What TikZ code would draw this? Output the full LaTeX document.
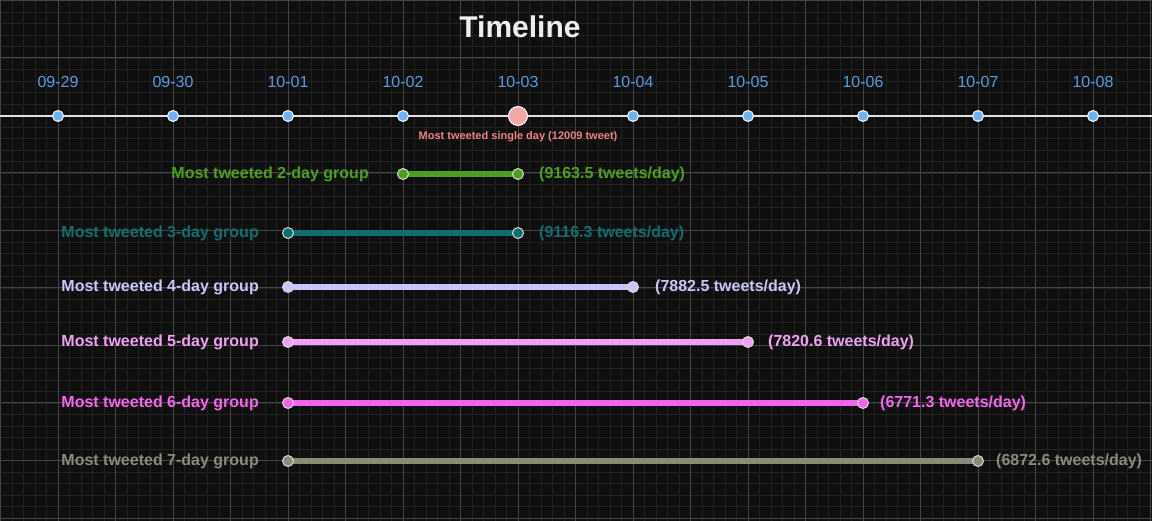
\documentclass[tikz,border=0pt]{standalone}
\usepackage{fontspec}
\setmainfont{Liberation Sans}
\usepackage{tikz}
\usetikzlibrary{positioning}
\usepackage{xcolor}
\definecolor{bgdark}{RGB}{15,15,15}
\definecolor{gridminor}{RGB}{33,33,33}
\definecolor{gridmajor}{RGB}{68,68,68}
\definecolor{datetext}{RGB}{88,156,224}
\definecolor{datefill}{RGB}{108,178,246}
\definecolor{peakfill}{RGB}{244,166,168}
\definecolor{peaktext}{RGB}{240,130,130}
\definecolor{grptwo}{RGB}{76,160,31}
\definecolor{grpthree}{RGB}{16,110,110}
\definecolor{grpfour}{RGB}{198,198,250}
\definecolor{grpfive}{RGB}{240,160,240}
\definecolor{grpsix}{RGB}{242,100,236}
\definecolor{grpseven}{RGB}{136,140,120}
\pgfdeclarelayer{back}
\pgfdeclarelayer{mid}
\pgfsetlayers{back,mid,main}

\begin{document}
\begin{tikzpicture}[x=1pt, y=-1pt,
  daydot/.style={circle, draw=white, line width=1pt, fill=datefill, minimum size=11pt, inner sep=0pt},
  peakdot/.style={circle, draw=white, line width=1pt, fill=peakfill, minimum size=19pt, inner sep=0pt},
  enddot/.style={circle, draw=white!85!black, line width=1pt, fill=#1, minimum size=11pt, inner sep=0pt},
  grplabel/.style={font=\bfseries\fontsize{16}{18}\selectfont, text=#1, inner sep=0pt},
  datelabel/.style={font=\fontsize{16}{18}\selectfont, text=datetext, inner sep=0pt}]
  \useasboundingbox (0,0) rectangle (1152,521);
  % Background and grid
  \begin{pgfonlayer}{back}
    \fill[bgdark] (0,0) rectangle (1152,521);
    \foreach \g in {0.5,12,...,1152} {
      \draw[gridminor, line width=0.8pt] (\g,0) -- (\g,521);
    }
    \foreach \g in {0.5,12,...,521} {
      \draw[gridminor, line width=0.8pt] (0,\g) -- (1152,\g);
    }
    \foreach \g in {0.5,58,...,1152} {
      \draw[gridmajor, line width=1pt] (\g,0) -- (\g,521);
    }
    \foreach \g in {0.5,58,...,521} {
      \draw[gridmajor, line width=1pt] (0,\g) -- (1152,\g);
    }
  \end{pgfonlayer}
  \node[font=\bfseries\fontsize{30}{32}\selectfont, text=white!93!black] (title) at (520,27) {Timeline};
  % Timeline axis
  \coordinate (axis-l) at (0,116);
  \coordinate (axis-r) at (1152,116);
  \begin{pgfonlayer}{mid}
    \draw[white!88!black, line width=1.3pt] (axis-l) -- (axis-r);
  \end{pgfonlayer}
  \foreach \lbl/\sty [count=\i from 0] in {09-29/daydot, 09-30/daydot, 10-01/daydot, 10-02/daydot, 10-03/peakdot, 10-04/daydot, 10-05/daydot, 10-06/daydot, 10-07/daydot, 10-08/daydot} {
    \node[\sty] (d\i) at (58+115*\i,116) {};
    \node[datelabel] (l\i) at (58+115*\i,82) {\lbl};
  }
  \node[font=\bfseries\fontsize{11}{12}\selectfont, text=peaktext] (peak) at (518,137) {Most tweeted single day (12009 tweet)};
  % Day groups
  \foreach \n/\s/\e/\y/\c/\r/\gl/\gr in {2/3/4/174/grptwo/9163.5/28/15, 3/2/4/233/grpthree/9116.3/23/15, 4/2/5/287/grpfour/7882.5/23/16, 5/2/6/342/grpfive/7820.6/23/14, 6/2/7/403/grpsix/6771.3/23/11, 7/2/8/461/grpseven/6872.6/23/12} {
    \node[enddot=\c] (g\n a) at (58+115*\s,\y) {};
    \node[enddot=\c] (g\n b) at (58+115*\e,\y) {};
    \begin{pgfonlayer}{mid}
      \draw[\c, line width=6pt] (g\n a.center) -- (g\n b.center);
    \end{pgfonlayer}
    \node[grplabel=\c, left=\gl pt of g\n a] (name\n) {Most tweeted \n-day group};
    \node[grplabel=\c, right=\gr pt of g\n b] (rate\n) {(\r\ tweets/day)};
  }
\end{tikzpicture}
\end{document}
